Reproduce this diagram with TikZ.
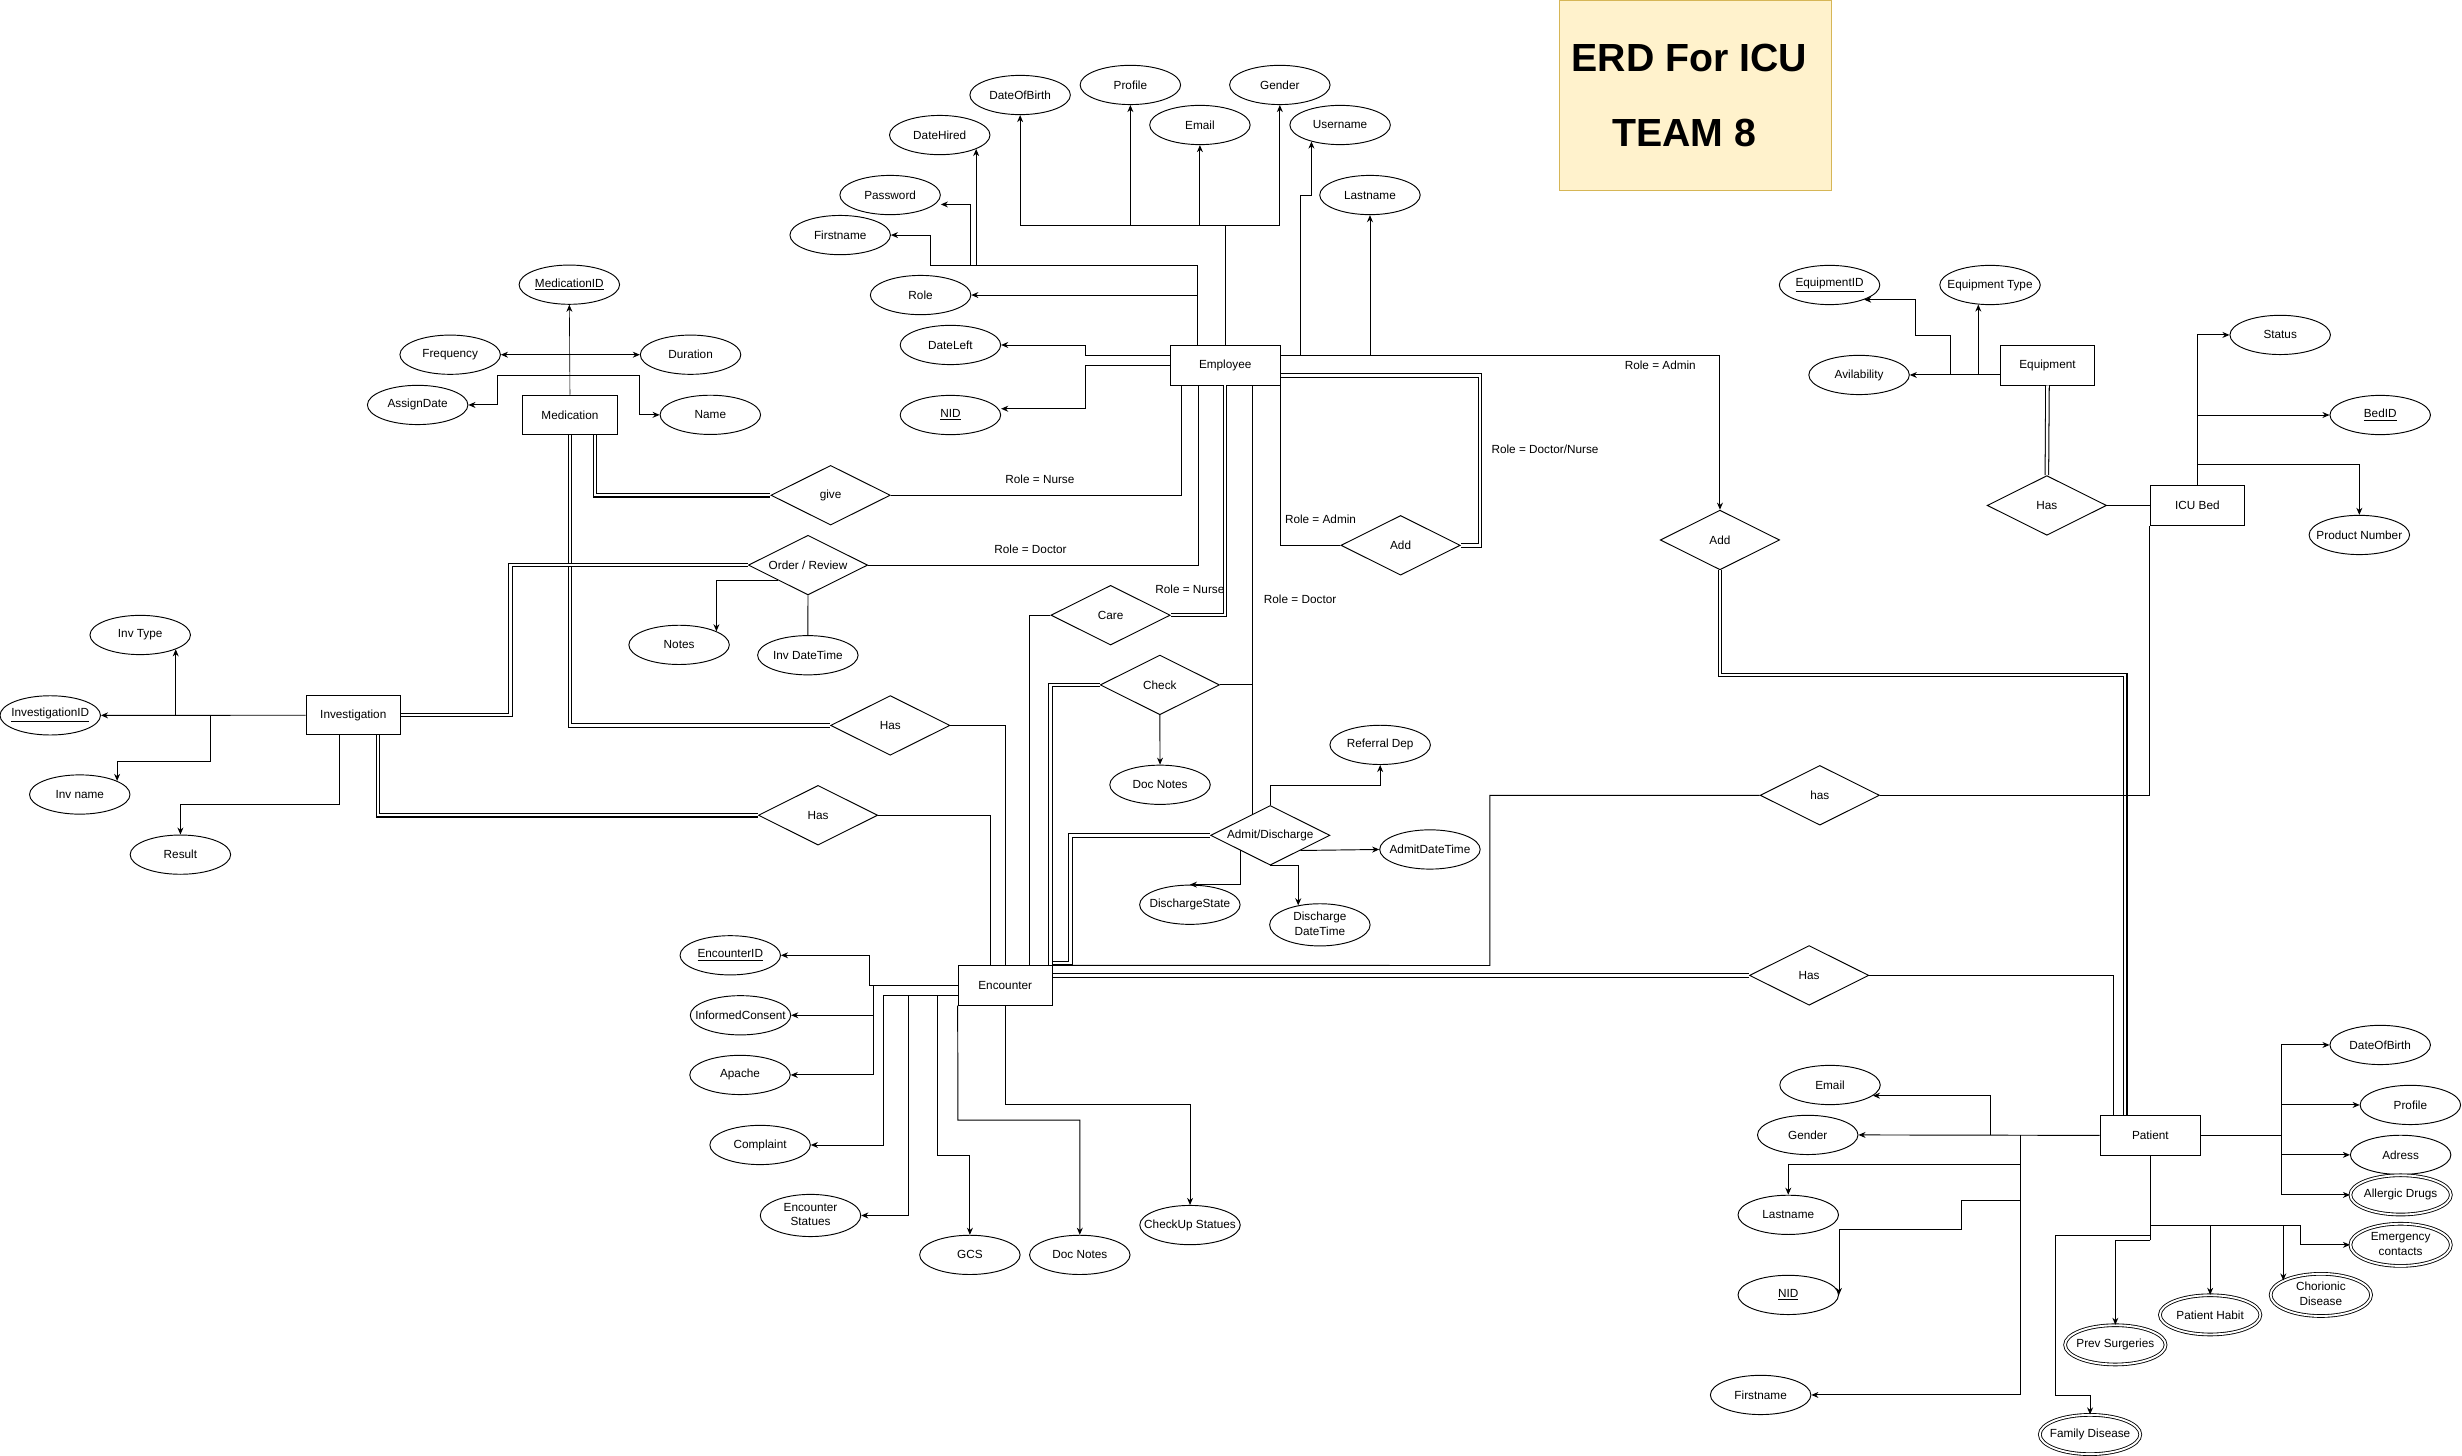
\documentclass[tikz,border=0pt]{standalone}
\usepackage{fontspec}
\setmainfont{Liberation Sans}
\usetikzlibrary{shapes.geometric, arrows.meta}
\definecolor{ttlfill}{HTML}{FFF2CC}
\definecolor{ttldraw}{HTML}{D6B656}
\newcommand{\lbl}[1]{\makebox[0pt]{#1}}
\newcommand{\twol}[2]{\makebox[0pt]{\begin{tabular}{@{}c@{}}#1\\#2\end{tabular}}}
\begin{document}
\begin{tikzpicture}[x=1pt, y=-1pt, line width=0.6pt,
    font=\fontsize{7.5}{9.5}\selectfont,
    >={Stealth[length=4.5pt, width=3.8pt]},
    ent/.style={draw, rectangle, minimum width=60pt, minimum height=25pt, inner sep=0pt},
    attr/.style={draw, ellipse, minimum width=64pt, minimum height=25pt, inner sep=0pt},
    multi/.style={attr, double, double distance=1.2pt, line width=0.55pt},
    rel/.style={draw, diamond, aspect=2, minimum width=76pt, minimum height=38pt, inner sep=0pt},
    dbl/.style={double, double distance=1.6pt, line width=0.65pt}]

    \fill[white] (0,0) rectangle (1568,927.2);
    \useasboundingbox (0,0) rectangle (1568,927.2);

    \node[draw=ttldraw, fill=ttlfill, minimum width=173pt, minimum height=121pt, anchor=north west] (ttl) at (993,0) {};
    \node[font=\bfseries\fontsize{25}{30}\selectfont] (ttl1) at (1076,37) {ERD For ICU};
    \node[font=\bfseries\fontsize{25}{30}\selectfont] (ttl2) at (1072.5,85) {TEAM 8};

    \node[ent, minimum width=70pt] (emp) at (780.3,232.7) {Employee};
    \node[attr] (dob1)   at (649.7,60.5)  {\lbl{DateOfBirth}};
    \node[attr] (prof1)  at (719.9,54.1)  {\lbl{Profile}};
    \node[attr] (gend1)  at (815.1,54.1)  {\lbl{Gender}};
    \node[attr] (mail1)  at (764.2,79.6)  {\lbl{Email}};
    \node[attr] (user1)  at (853.5,79.6)  {\lbl{Username}};
    \node[attr] (hire1)  at (598.5,86)    {\lbl{DateHired}};
    \node[attr] (pass1)  at (566.9,124.2) {\lbl{Password}};
    \node[attr] (last1)  at (872.5,124.2) {\lbl{Lastname}};
    \node[attr] (first1) at (535.1,149.7) {\lbl{Firstname}};
    \node[attr] (role1)  at (586.3,187.9) {\lbl{Role}};
    \node[attr] (left1)  at (605.3,219.7) {\lbl{DateLeft}};
    \node[attr] (nid1)   at (605.3,264.3) {\lbl{\underline{NID}}};

    \node[ent] (med) at (363,264.2) {Medication};
    \node[attr] (medid) at (362.6,181.3) {\lbl{\underline{MedicationID}}};
    \node[attr] (freq)  at (286.7,225.9) {\lbl{Frequency}};
    \node[attr] (dur)   at (439.8,225.9) {\lbl{Duration}};
    \node[attr] (asgn)  at (266,257.9)   {\lbl{AssignDate}};
    \node[attr] (name1) at (452.4,264.2) {\lbl{Name}};

    \node[ent] (inv) at (225,455.5) {Investigation};
    \node[attr] (invtype) at (89.3,404.4)  {\lbl{Inv Type}};
    \node[attr] (invid)   at (32,455.6)    {\lbl{\underline{InvestigationID}}};
    \node[attr] (invname) at (50.8,506)    {\lbl{Inv name}};
    \node[attr] (res)     at (114.9,544.3) {\lbl{Result}};

    \node[rel] (give)  at (529,315.4)   {give};
    \node[rel] (ordr)  at (514.6,359.9) {Order / Review};
    \node[attr] (notes) at (432.5,410.7) {\lbl{Notes}};
    \node[attr] (invdt) at (514.5,417.3) {\lbl{Inv DateTime}};
    \node[rel] (has1)  at (567,462)     {Has};
    \node[rel] (has2)  at (521,519.2)   {Has};

    \node[rel] (care)  at (707.3,391.8) {Care};
    \node[rel] (check) at (738.7,436.2) {Check};
    \node[attr] (doc1) at (738.8,499.8) {\lbl{Doc Notes}};
    \node[rel] (admit) at (809,532)     {Admit/Discharge};
    \node[attr] (refd)   at (879,474.4)   {\lbl{Referral Dep}};
    \node[attr] (admdt)  at (910.7,541)   {\lbl{AdmitDateTime}};
    \node[attr] (dstate) at (757.8,576.2) {\lbl{DischargeState}};
    \node[attr] (ddt)    at (840.6,589)   {\twol{Discharge}{DateTime}};
    \node[rel] (add1)  at (892,347.3)   {Add};

    \node[ent] (enc) at (640.2,627.6) {Encounter};
    \node[attr] (encid) at (465.1,608.4) {\lbl{\underline{EncounterID}}};
    \node[attr] (cons)  at (471.6,646.6) {\lbl{InformedConsent}};
    \node[attr] (apa)   at (471.3,684.6) {\lbl{Apache}};
    \node[attr] (cmpl)  at (484.1,729.2) {\lbl{Complaint}};
    \node[attr] (encst) at (516.2,774.1) {\twol{Encounter}{Statues}};
    \node[attr] (gcs)   at (617.7,799.2) {\lbl{GCS}};
    \node[attr] (doc2)  at (687.7,799.2) {\lbl{Doc Notes}};
    \node[attr] (chk2)  at (757.9,780.2) {\lbl{CheckUp Statues}};

    \node[rel] (add2) at (1095.4,343.9) {Add};
    \node[rel] (has3) at (1159,506.5)   {has};
    \node[rel] (has4) at (1152.2,621.2) {Has};

    \node[ent] (eqp) at (1304,232.7) {Equipment};
    \node[attr] (eqid)   at (1165.2,181.5) {\lbl{\underline{EquipmentID}}};
    \node[attr] (eqtype) at (1267.4,181.5) {\lbl{Equipment Type}};
    \node[attr] (avail)  at (1184,238.8)   {\lbl{Avilability}};
    \node[rel] (has5) at (1303.6,321.9) {Has};

    \node[ent] (bed) at (1399.5,321.9) {ICU Bed};
    \node[attr] (stat)  at (1452.2,213.3) {\lbl{Status}};
    \node[attr] (bedid) at (1515.9,264.3) {\lbl{\underline{BedID}}};
    \node[attr] (prodn) at (1502.6,340.7) {\lbl{Product Number}};

    \node[ent, minimum width=64pt] (pat) at (1369.5,723.1) {Patient};
    \node[attr]  (dob2)   at (1515.9,665.5) {\lbl{DateOfBirth}};
    \node[attr]  (prof2)  at (1535.1,703.7) {\lbl{Profile}};
    \node[attr]  (adr)    at (1528.9,735.5) {\lbl{Adress}};
    \node[multi] (alg)    at (1528.9,761)   {\lbl{Allergic Drugs}};
    \node[multi] (emg)    at (1528.9,792.8) {\twol{Emergency}{contacts}};
    \node[multi] (chr)    at (1478.1,824.7) {\twol{Chorionic}{Disease}};
    \node[multi] (hab)    at (1407.6,837.4) {\lbl{Patient Habit}};
    \node[multi] (surg)   at (1347.2,856.5) {\lbl{Prev Surgeries}};
    \node[multi] (fam)    at (1331.1,913.6) {\lbl{Family Disease}};
    \node[attr]  (mail2)  at (1165.5,691)   {\lbl{Email}};
    \node[attr]  (gend2)  at (1151.3,722.8) {\lbl{Gender}};
    \node[attr]  (last2)  at (1138.9,773.7) {\lbl{Lastname}};
    \node[attr]  (nid2)   at (1138.9,824.7) {\lbl{\underline{NID}}};
    \node[attr]  (first2) at (1121.3,888.4) {\lbl{Firstname}};

    \node (lb1) at (662.3,305.1) {Role = Nurse};
    \node (lb2) at (656.3,349.8) {Role = Doctor};
    \node (lb3) at (757.8,375.4) {Role = Nurse};
    \node (lb4) at (828,381.8)   {Role = Doctor};
    \node (lb5) at (841,330.6)   {Role = Admin};
    \node (lb6) at (984,286.2)   {Role = Doctor/Nurse};
    \node (lb7) at (1057.4,232.4) {Role = Admin};

    \coordinate (t1) at (780.3,143.5);
    \coordinate (t2) at (762.8,169);
    \coordinate (t3) at (592.5,169);
    \coordinate (t4) at (618.1,169);
    \coordinate (t5) at (hire1.-21 |- t2);
    \coordinate (t6) at (691.1,226.2);
    \coordinate (t7) at (691.1,232.7);
    \coordinate (r1) at (1095.4,226.3);
    \coordinate (r2) at (828.2,226.3);
    \coordinate (r3) at (828.2,124.4);
    \coordinate (r4) at (942.7,239);
    \coordinate (r5) at (942.7,347.3);
    \coordinate (b1) at (752.7,315.4);
    \coordinate (b2) at (763.1,359.9);
    \coordinate (b3) at (780.3,391.8);
    \coordinate (b4) at (797.7,436.2);
    \coordinate (b5) at (797.7,518.6);

    \draw[dbl] (emp.east |- r4) -- (r4) -- (r5) -- (add1.east);
    \draw[dbl] (emp.south -| b3) -- (b3) -- (care.east);
    \draw[dbl] (med.south) |- (has1.west);
    \coordinate (m3) at (379,315.4);
    \draw[dbl] (med.south -| m3) -- (m3) -- (give.west);
    \coordinate (o1) at (325,359.9);
    \draw[dbl] (ordr.west) -- (o1) |- (inv.east);
    \coordinate (i4) at (240.8,519.2);
    \draw[dbl] (inv.south -| i4) -- (i4) -- (has2.west);
    \draw[dbl] (check.west) -| ([xshift=-1.5pt]enc.north east);
    \coordinate (a1) at (681.7,532);
    \draw[dbl] (admit.west) -- (a1) |- ([yshift=1.5pt]enc.north east);
    \draw[dbl] (enc.east |- has4) -- (has4.west);
    \coordinate (d1) at (1353.5,430);
    \draw[dbl] (add2.south) |- (d1) -- (pat.north -| d1);
    \draw[dbl] (eqp.south) -- (has5.north);

    \draw (emp.north) -- (t1);
    \draw[->] (t1) -| (dob1.south);
    \draw[->] (t1) -| (prof1.south);
    \draw[->] (t1) -| (mail1.south);
    \draw[->] (t1) -| (gend1.south);
    \draw (emp.north -| t2) -- (t2);
    \draw[->] (t2) -- (t3) |- (first1.east);
    \draw[->] (t4) |- ([yshift=-6pt]pass1.east);
    \draw[->] (t5) -- (hire1.-21);
    \draw[->] (role1.east -| t2) -- (role1.east);
    \draw[->] (emp.west |- t6) -- (t6) |- (left1.east);
    \draw[->] (emp.west) -- (t7) |- ([yshift=4pt]nid1.east);
    \draw[->] (emp.east |- r1) -- (r1) -- (add2.north);
    \draw[->] (r2) -- (r3) -| (user1.210);
    \draw[->] (last1.south |- r1) -- (last1.south);
    \draw (emp.south east) |- (add1.west);
    \draw (emp.south -| b1) -- (b1) -- (give.east);
    \draw (emp.south -| b2) -- (b2) -- (ordr.east);
    \draw (emp.south -| b4) -- (b5);
    \draw (check.east) -- (b4);

    \draw[->, line width=0.4pt] (med.north) -- (medid.south);
    \draw[<->] (freq.east) -- (dur.west);
    \coordinate (m1) at (316.8,239.1);
    \coordinate (m2) at (407.3,239.1);
    \draw[->] (med.north |- m1) -- (m1) |- (asgn.east);
    \draw[->] (med.north |- m2) -- (m2) |- (name1.west);

    \draw[->] (ordr.south west) -| (notes.20);
    \draw (ordr.south) -- (invdt.north);

    \draw[->] (inv.west) -- (invid.east);
    \draw[->] (invtype.-22 |- inv.west) -- (invtype.-22);
    \coordinate (i1) at (134,455.5);
    \coordinate (i2) at (134,484.7);
    \draw[->] (i1) -- (i2) -| (invname.20);
    \coordinate (i3) at (216.5,512.6);
    \draw[->] (inv.south -| i3) -- (i3) -| (res.north);

    \draw (has1.east) -| (enc.north);
    \draw (has2.east) -| ([xshift=-9.4pt]enc.north);
    \draw (care.west) -| ([xshift=15.4pt]enc.north);
    \draw[->] (check.south) -- (doc1.north);

    \coordinate (a2) at (809,500.3);
    \draw[->] (admit.north) -- (a2) -| (refd.south);
    \draw[->] (admit.south east) -- (admdt.west);
    \draw[->] (admit.south west) |- (dstate.north);
    \draw[->] (admit.south) -| (ddt.138);

    \coordinate (n1) at (553.5,627.6);
    \coordinate (n2) at (556.6,627.6);
    \coordinate (n3) at (562.9,634);
    \coordinate (n4) at (578.8,634);
    \coordinate (n5) at (597.3,634);
    \coordinate (n6) at (597.3,735.8);
    \coordinate (n7) at (610.1,713.4);
    \coordinate (n8) at (640.2,703.6);
    \draw[->] (enc.west) -- (n1) |- (encid.east);
    \draw[->] (n2) |- (cons.east);
    \draw[->] (n2) |- (apa.east);
    \draw[->] (enc.west |- n3) -- (n3) |- (cmpl.east);
    \draw[->] (n4) |- (encst.east);
    \draw[->] (n5) -- (n6) -| (gcs.north);
    \draw[->] (enc.south west) -- (n7) -| (doc2.north);
    \draw[->] (enc.south) -- (n8) -| (chk2.north);

    \coordinate (e1) at (948.8,614.9);
    \draw (enc.north east) -- (e1) |- (has3.west);
    \draw (has3.east) -| (bed.south west);
    \draw (has4.east) -| ([xshift=-23.7pt]pat.north);

    \coordinate (q1) at (1242.2,238.8);
    \coordinate (q2) at (1242.2,213.8);
    \coordinate (q3) at (1220,213.8);
    \draw[->] (eqp.west |- avail) -- (avail.east);
    \draw[->] (q1) -- (q2) -- (q3) |- (eqid.-23);
    \draw[->] (eqtype.-121 |- avail) -- (eqtype.-121);
    \draw (has5.east) -- (bed.west);

    \coordinate (c1) at (1399.5,296.1);
    \draw[->] (bed.north) |- (stat.west);
    \draw[->] (bed.north |- bedid) -- (bedid.west);
    \draw[->] (c1) -| (prodn.north);

    \coordinate (p1) at (1452.8,723.1);
    \draw (pat.east) -- (p1);
    \draw[->] (p1) |- (dob2.west);
    \draw[->] (p1) |- (prof2.west);
    \draw[->] (p1) |- (adr.west);
    \draw[->] (p1) |- (alg.west);
    \coordinate (p2) at (1369.5,780.3);
    \coordinate (p3) at (1465.4,780.3);
    \coordinate (p4) at (1369.5,789.7);
    \coordinate (p5) at (1369.5,786.7);
    \coordinate (p6) at (1309.2,888.8);
    \draw (pat.south) -- (p4);
    \draw[->] (p2) -- (p3) |- (emg.west);
    \draw[->] (hab.north |- p2) -- (hab.north);
    \draw[->] (chr.159 |- p2) -- (chr.159);
    \draw[->] (p4) -| (surg.north);
    \draw[->] (p5) -| (p6) -| (fam.north);
    \coordinate (p7) at (1286.9,723.1);
    \coordinate (p8) at (1267.7,723.1);
    \coordinate (p9) at (1286.9,741.9);
    \coordinate (p10) at (1286.9,764.4);
    \coordinate (p11) at (1249.1,783.3);
    \draw[->] (pat.west) -- (gend2.east);
    \draw[->] (p8) |- (mail2.-14);
    \draw[->] (p7) |- (first2.east);
    \draw[->] (p9) -| (last2.north);
    \draw[->] (p10) -| (p11) -| (nid2.east);
\end{tikzpicture}
\end{document}
